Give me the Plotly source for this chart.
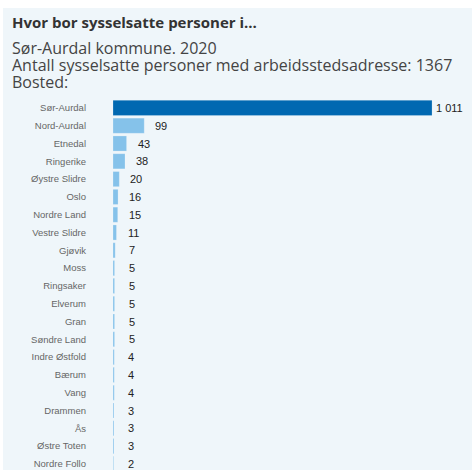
import plotly.graph_objects as go

categories = ["Sør-Aurdal", "Nord-Aurdal", "Etnedal", "Ringerike", "Øystre Slidre", "Oslo",
              "Nordre Land", "Vestre Slidre", "Gjøvik", "Moss", "Ringsaker", "Elverum", "Gran",
              "Søndre Land", "Indre Østfold", "Bærum", "Vang", "Drammen", "Ås", "Østre Toten",
              "Nordre Follo"]
values = [1011, 99, 43, 38, 20, 16, 15, 11, 7, 5, 5, 5, 5, 5, 4, 4, 4, 3, 3, 3, 2]
highlight = "Sør-Aurdal"

title = "Hvor bor sysselsatte personer i..."
subtitle_lines = ["Sør-Aurdal kommune. 2020",
                  "Antall sysselsatte personer med arbeidsstedsadresse: 1367",
                  "Bosted:"]

W, H = 472, 470
ml, mr, mt, mb = 113, 4, 99, 0
pw, ph = W - ml - mr, H - mt - mb

def px_x(p):
    return (p - ml) / pw

def px_y(p):
    return (H - mb - p) / ph

colors = ["#0068b1" if c == highlight else "#85c2ea" for c in categories]

fig = go.Figure(go.Bar(
    x=values, y=categories, orientation="h",
    marker=dict(color=colors, line=dict(color="rgba(255,255,255,0.35)", width=0.6)),
    width=0.85, hoverinfo="skip",
))

n_visible = (ph) / 17.8
fig.update_yaxes(
    type="category", categoryorder="array", categoryarray=categories,
    range=[n_visible - 0.5, -0.5], showgrid=False, zeroline=False, showline=False,
    ticks="", ticklabelstandoff=26,
    tickfont=dict(family="Liberation Sans, Arial, sans-serif", size=9.5, color="#666666"),
)
fig.update_xaxes(range=[0, 1125], visible=False, showgrid=False, zeroline=False)

annotations = []
for c, v in zip(categories, values):
    annotations.append(dict(
        x=v, y=c, xref="x", yref="y", text=f"{v:,}".replace(",", " "),
        showarrow=False, xanchor="center", yanchor="middle", xshift=17,
        font=dict(family="Liberation Sans, Arial, sans-serif", size=11, color="#222222"),
    ))

annotations.append(dict(
    x=px_x(10), y=px_y(22), xref="paper", yref="paper", text="<b>" + title + "</b>",
    showarrow=False, xanchor="left", yanchor="middle",
    font=dict(family="Open Sans, sans-serif", size=15, color="#333333"),
))
for i, line in enumerate(subtitle_lines):
    annotations.append(dict(
        x=px_x(10), y=px_y(48 + 17 * i), xref="paper", yref="paper", text=line,
        showarrow=False, xanchor="left", yanchor="middle",
        font=dict(family="Open Sans, sans-serif", size=16, color="#444444"),
    ))

fig.update_layout(
    width=W, height=H,
    margin=dict(l=ml, r=mr, t=mt, b=mb, pad=0),
    paper_bgcolor="white", plot_bgcolor="rgba(0,0,0,0)",
    showlegend=False, bargap=0.15,
    annotations=annotations,
    shapes=[dict(type="rect", xref="paper", yref="paper", layer="below",
                 x0=px_x(3), x1=px_x(W + 2), y0=px_y(H + 2), y1=px_y(8),
                 fillcolor="#eff6fa", line=dict(width=0))],
)

fig.write_html("out.html", config={"displayModeBar": False, "staticPlot": True},
               post_script="document.body.style.margin='0';document.body.style.overflow='hidden';")
